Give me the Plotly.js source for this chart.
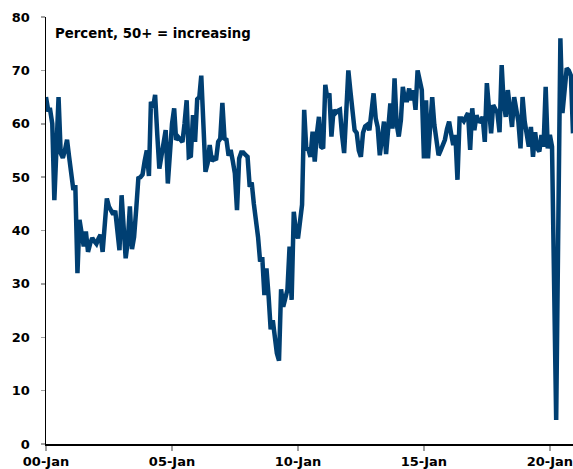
<!DOCTYPE html>
<html>
<head>
<meta charset="utf-8">
<script src="https://cdn.plot.ly/plotly-3.0.1.min.js"></script>
<style>
  html, body { margin: 0; padding: 0; background: #ffffff; }
  #chart { width: 573px; height: 469px; }
</style>
</head>
<body>
<div id="chart"></div>
<script>
// Monthly diffusion index readings, January 2000 onwards (percent, 50+ = increasing)
const values2000to2004 = [
  65, 62.6, 62.6, 60, 45.7, 55, 65, 54.5, 53.6, 55, 57, 53.8,
  50, 47.6, 48.5, 32, 42, 39, 37, 39.8, 36, 37.5, 38.6, 38,
  37.5, 38.5, 39.2, 36, 41, 46, 44.5, 43.5, 43, 43.7, 40, 36.3,
  46.6, 40, 34.8, 38, 44.5, 36.5, 38.8, 44, 49.8, 50, 50.5, 53,
  55, 50.2, 64.1, 63, 65.4, 58, 51.6, 54, 56, 58.8, 48.8, 55
];
const values2005to2009 = [
  60, 62.9, 57, 57.5, 57, 56.6, 60, 64.4, 53.8, 54, 61.6, 56.6,
  64.6, 65, 69, 60, 51, 52.6, 56, 53, 53.5, 53.2, 56.6, 57.2,
  63.9, 57.2, 57, 54, 55.1, 53, 50.7, 43.8, 53.5, 54.6, 54.6, 54.2,
  53.8, 48.2, 49, 45, 42, 38.8, 34.2, 35, 27.9, 32.9, 27.7, 21.5,
  23.2, 19, 17, 15.6, 29, 25.7, 27, 28.9, 37, 27, 43.5, 40
];
const values2010to2014 = [
  38.5, 42, 44.8, 62.6, 55.4, 55.2, 53.8, 58.5, 52.9, 58, 61.3, 55.7,
  55.4, 67.3, 64.8, 65.7, 57.6, 62.6, 62, 62.4, 62.6, 58, 54.5, 62,
  70, 66, 63.2, 58.8, 58.3, 55, 53.8, 58.3, 59.5, 59.8, 58.8, 62,
  65.7, 61, 59.4, 54.1, 57, 60.4, 54.3, 60, 63.8, 59.1, 68.5, 60,
  57.6, 60.7, 66.9, 64.4, 64.4, 66.6, 64.4, 66.3, 62.6, 70, 67.5, 66.3
];
const values2015to2020 = [
  53.5, 64.4, 53.5, 60, 65, 59.8, 57, 54.1, 55, 56, 57, 59,
  60.4, 58, 56, 57.9, 49.5, 61, 61, 60.5, 61.5, 62, 55.1, 62.9,
  58.8, 61.6, 60.5, 60.4, 61.3, 56.6, 67.6, 61.3, 58.2, 63.5, 62.6, 62,
  58.4, 71, 64.1, 61.3, 66.3, 62.9, 59.4, 65, 62, 60.4, 55.4, 65,
  60.4, 58, 55.7, 59.4, 53.8, 58.4, 55.4, 54.8, 57.9, 55.7, 66.9, 55.4,
  57.9, 55.7, 30, 4.5, 40, 76, 62, 66, 70.4, 70, 69, 58.2
];

const startYear = 2000;
const tickYears = [2000, 2005, 2010, 2015, 2020];
const tickLabels = ['00-Jan', '05-Jan', '10-Jan', '15-Jan', '20-Jan'];
const yTicks = [0, 10, 20, 30, 40, 50, 60, 70, 80];
const noteText = 'Percent, 50+ = increasing';

const values = [].concat(values2000to2004, values2005to2009, values2010to2014, values2015to2020);

// one date per monthly reading, first of each month
function monthDate(i) {
  const y = startYear + Math.floor(i / 12);
  const m = (i % 12) + 1;
  return y + '-' + (m < 10 ? '0' + m : m) + '-01';
}
const dates = values.map((_, i) => monthDate(i));

const tickFont = { family: 'DejaVu Sans, Liberation Sans, Arial, sans-serif', size: 13, color: '#000000', weight: 'bold' };

const trace = {
  type: 'scatter',
  mode: 'lines',
  x: dates,
  y: values,
  line: { color: '#003f72', width: 4.5, shape: 'linear' },
  hoverinfo: 'skip'
};

const layout = {
  width: 573,
  height: 469,
  margin: { l: 46, r: 0, t: 17, b: 25, pad: 0 },
  paper_bgcolor: '#ffffff',
  plot_bgcolor: '#ffffff',
  showlegend: false,
  xaxis: {
    type: 'date',
    range: [dates[0], dates[dates.length - 1]],
    tickmode: 'array',
    tickvals: tickYears.map(y => y + '-01-01'),
    ticktext: tickLabels,
    ticks: 'outside',
    ticklen: 5,
    tickwidth: 1.5,
    tickcolor: '#a0a0a0',
    showline: true,
    linecolor: '#000000',
    linewidth: 1.5,
    showgrid: false,
    zeroline: false,
    tickfont: tickFont,
    ticklabelstandoff: 0,
    ticklabeloverflow: 'allow'
  },
  yaxis: {
    range: [0, 80],
    tickmode: 'array',
    tickvals: yTicks,
    ticktext: yTicks.map(String),
    ticks: 'outside',
    ticklen: 4,
    tickwidth: 1.5,
    tickcolor: '#a0a0a0',
    showline: true,
    linecolor: '#000000',
    linewidth: 1.5,
    showgrid: false,
    zeroline: false,
    tickfont: tickFont,
    ticklabelstandoff: 8
  },
  annotations: [{
    text: noteText,
    xref: 'paper', yref: 'paper',
    x: 0.013, y: 0.961,
    xanchor: 'left', yanchor: 'middle',
    showarrow: false,
    font: { family: 'DejaVu Sans, Liberation Sans, Arial, sans-serif', size: 13.3, color: '#000000', weight: 'bold' }
  }]
};

Plotly.newPlot('chart', [trace], layout, { staticPlot: true, displayModeBar: false });
</script>
</body>
</html>
